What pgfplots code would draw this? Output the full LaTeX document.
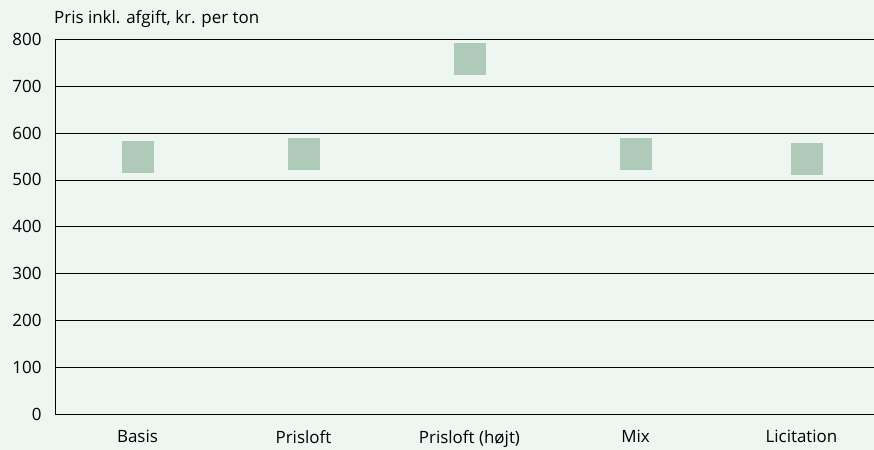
\documentclass[border=0pt]{standalone}
\usepackage{pgfplots}
\pgfplotsset{compat=1.18}
\usepackage{fontspec}
\setmainfont{Open Sans}
\definecolor{bg}{RGB}{238,246,241}
\definecolor{sq}{RGB}{176,202,186}
\begin{document}
\begin{tikzpicture}[x=1bp,y=1bp]
\fill[bg] (0,0) rectangle (874,450);
\useasboundingbox (0,0) rectangle (874,450);
\begin{axis}[
    at={(55bp,36bp)}, anchor=south west,
    scale only axis, width=819bp, height=374.5bp,
    xmin=-0.497, xmax=4.437, ymin=0, ymax=800,
    axis x line*=bottom, axis y line*=left,
    axis line style={black, line width=0.9pt, -},
    ytick={0,100,...,800}, ymajorgrids,
    grid style={black, line width=0.8pt},
    xtick={0,1,2,3,4},
    xticklabels={Basis, Prisloft, Prisloft (højt), Mix, Licitation},
    major tick length=0pt,
    tick label style={font=\fontsize{17}{20}\selectfont},
    /pgf/number format/assume math mode=true,
    xticklabel style={yshift=-13bp},
    yticklabel style={xshift=-10bp},
    clip=false,
]
\addplot[only marks, mark=square*, mark size=15.5bp, color=sq,
    mark options={draw=sq, fill=sq}]
    coordinates {(0,550) (1,557) (2,760) (3,557) (4.03,546)};
\end{axis}
\node[anchor=base west, inner sep=0pt, font=\fontsize{17}{20}\selectfont] at (54,450-24) {Pris inkl. afgift, kr. per ton};
\end{tikzpicture}
\end{document}
